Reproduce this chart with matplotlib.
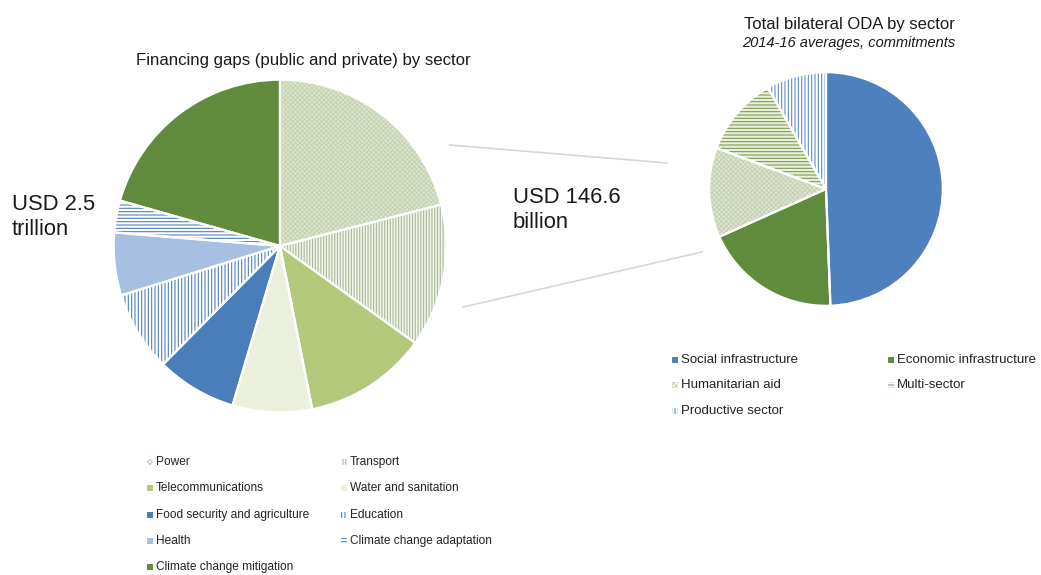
import matplotlib
matplotlib.use("Agg")
import matplotlib.pyplot as plt
from matplotlib.patches import Rectangle

plt.rcParams['font.family'] = ['Liberation Sans', 'DejaVu Sans']
plt.rcParams['hatch.linewidth'] = 0.8

# ---------------- data ----------------
gap_labels = ["Power", "Transport", "Telecommunications", "Water and sanitation",
              "Food security and agriculture", "Education", "Health",
              "Climate change adaptation", "Climate change mitigation"]
gap_shares = [21.0, 13.9, 12.0, 7.7, 7.8, 7.8, 6.1, 3.1, 20.6]
gap_face = ["#dde6cf", "#f2f5ea", "#b4c87c", "#ebf0dc", "#4a7ebb",
            "#ffffff", "#a7bfe0", "#ffffff", "#618b3c"]
gap_hatchc = ["#c6d3b2", "#a9b898", None, None, None,
              "#4f81bd", None, "#4f81bd", None]
gap_hatch = ["xxxxxxx", "||||||", None, None, None, "|||||", None, "-----", None]

oda_labels = ["Social infrastructure", "Economic infrastructure", "Humanitarian aid",
              "Multi-sector", "Productive sector"]
oda_shares = [49.4, 18.9, 12.4, 11.0, 8.3]
oda_face = ["#4e80bf", "#618b3c", "#dfe6d3", "#e9efdc", "#ffffff"]
oda_hatchc = [None, None, "#c6d2b3", "#7e9b52", "#5f8ccb"]
oda_hatch = [None, None, "xxxxxxx", "-----", "|||||"]

W, H = 1041, 575
fig = plt.figure(figsize=(W / 100, H / 100), dpi=100)
fig.patch.set_facecolor("white")

bg = fig.add_axes([0, 0, 1, 1])
bg.set_xlim(0, W)
bg.set_ylim(H, 0)
bg.axis("off")


def draw_pie(cx, cy, r, shares, face, hatch, hatchc):
    ax = fig.add_axes([(cx - r) / W, (H - cy - r) / H, 2 * r / W, 2 * r / H])
    wedges, _ = ax.pie(shares, startangle=90, counterclock=False, radius=1,
                       colors=face, wedgeprops=dict(linewidth=0))
    for w, h, hc in zip(wedges, hatch, hatchc):
        if h:
            w.set_hatch(h)
            w.set_edgecolor(hc)
            w.set_linewidth(0)
    ax.pie(shares, startangle=90, counterclock=False, radius=1,
           colors=["none"] * len(shares),
           wedgeprops=dict(linewidth=1.6, edgecolor="white", fill=False))
    ax.set_xlim(-1.01, 1.01)
    ax.set_ylim(-1.01, 1.01)
    ax.set_aspect("equal")
    ax.axis("off")
    return ax


draw_pie(280, 246, 168, gap_shares, gap_face, gap_hatch, gap_hatchc)
draw_pie(826, 189, 118, oda_shares, oda_face, oda_hatch, oda_hatchc)

# connector lines
bg.plot([450, 667], [145, 163], color="#d6d6d6", lw=1.2)
bg.plot([463, 702], [307, 252], color="#d6d6d6", lw=1.2)

# titles and labels
bg.text(303, 60, "Financing gaps (public and private) by sector", ha="center",
        va="center", fontsize=12.1, color="#1a1a1a")
bg.text(849, 24, "Total bilateral ODA by sector", ha="center", va="center",
        fontsize=12.0, color="#1a1a1a")
bg.text(849, 43, "2014-16 averages, commitments", ha="center", va="center",
        fontsize=10.5, style="italic", color="#1a1a1a")
bg.text(12, 217, "USD 2.5\ntrillion", ha="left", va="center", fontsize=15.8,
        linespacing=1.25, color="#1a1a1a")
bg.text(513, 210, "USD 146.6\nbillion", ha="left", va="center", fontsize=15.8,
        linespacing=1.25, color="#1a1a1a")


def legend_item(x, y, label, fc, h, hc, fs):
    rect = Rectangle((x - 3, y - 3), 6, 6, facecolor=fc, linewidth=0)
    if h:
        rect.set_hatch(h)
        rect.set_edgecolor(hc)
    bg.add_patch(rect)
    bg.text(x + 6, y, label, ha="left", va="center", fontsize=fs, color="#222222")


gx = [150, 344]
gy = [462, 488, 515, 541, 567]
for i, lab in enumerate(gap_labels):
    legend_item(gx[i % 2], gy[i // 2], lab,
                gap_face[i] if gap_hatch[i] is None else "white",
                gap_hatch[i], gap_hatchc[i], 8.6)

ox = [675, 891]
oy = [360, 385, 411]
for i, lab in enumerate(oda_labels):
    legend_item(ox[i % 2], oy[i // 2], lab,
                oda_face[i] if oda_hatch[i] is None else "white",
                oda_hatch[i], oda_hatchc[i], 9.5)

fig.savefig("out.png", dpi=100, facecolor="white")
